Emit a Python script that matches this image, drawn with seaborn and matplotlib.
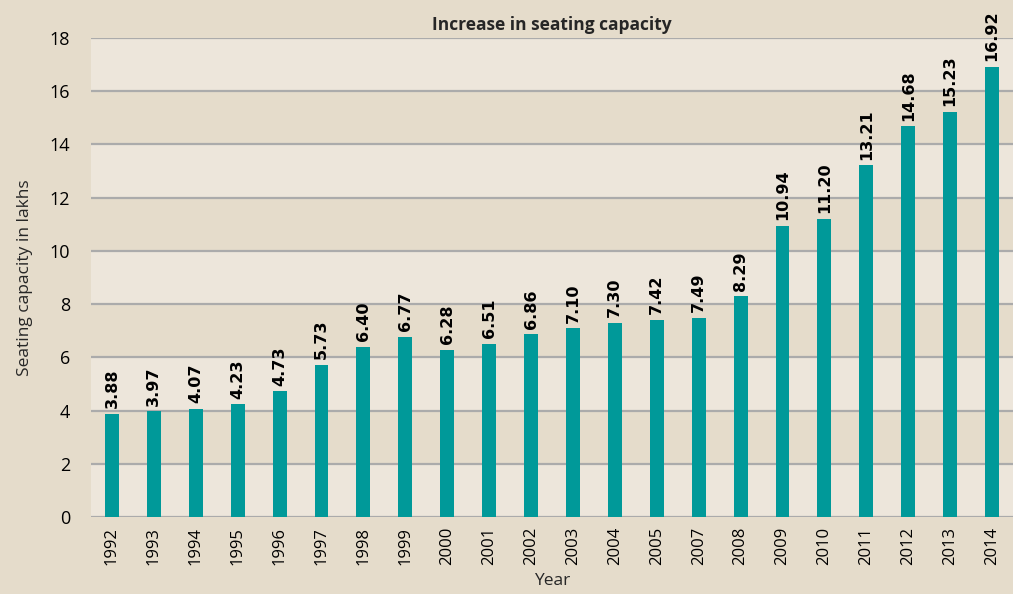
import matplotlib
matplotlib.use("Agg")
import matplotlib.pyplot as plt
import seaborn as sns
import pandas as pd

years = ['1992', '1993', '1994', '1995', '1996', '1997', '1998', '1999', '2000', '2001', '2002',
         '2003', '2004', '2005', '2007', '2008', '2009', '2010', '2011', '2012', '2013', '2014']
capacity = [3.88, 3.97, 4.07, 4.23, 4.73, 5.73, 6.40, 6.77, 6.28, 6.51, 6.86,
            7.10, 7.30, 7.42, 7.49, 8.29, 10.94, 11.20, 13.21, 14.68, 15.23, 16.92]
yticks = [0, 2, 4, 6, 8, 10, 12, 14, 16, 18]

bg = '#E5DCCB'
band = '#EDE6DB'
teal = '#009999'

df = pd.DataFrame({'Year': years, 'Capacity': capacity})

sns.set_style('white')
plt.rcParams['font.family'] = ['Open Sans', 'DejaVu Sans']

fig = plt.figure(figsize=(10.13, 5.94), dpi=100, facecolor=bg)
ax = fig.add_axes([91 / 1013, 77 / 594, 1 - 91 / 1013, (517 - 38) / 594])
ax.set_facecolor(bg)

# alternating light bands
for lo in yticks[:-1:2]:
    ax.axhspan(lo, lo + 2, color=band, zorder=0, lw=0)
for y in yticks:
    ax.axhline(y, color='#ABABAB', lw=1.6, zorder=1)

sns.barplot(data=df, x='Year', y='Capacity', color=teal, width=0.33,
            saturation=1, linewidth=0, ax=ax, zorder=2)

labels = ax.bar_label(ax.containers[0], fmt='%.2f', rotation=90, padding=4,
                      fontsize=11.5, fontweight='bold', color='black')
for t in labels:
    t.set_fontfamily('DejaVu Sans')

ax.set_ylim(0, 18)
ax.set_xlim(-0.5, len(years) - 0.5)
ax.set_yticks(yticks)
ax.tick_params(axis='y', length=0, pad=15, labelsize=13, colors='black')
ax.tick_params(axis='x', length=0, pad=7, labelsize=12, rotation=90, colors='black')
for s in ax.spines.values():
    s.set_visible(False)

ax.set_xlabel('Year', fontsize=12.5, labelpad=6)
ax.set_ylabel('Seating capacity in lakhs', fontsize=12.5, labelpad=12)
ax.set_title('Increase in seating capacity', fontsize=12.5, fontweight='bold', pad=6)

fig.savefig('out.png', dpi=100, facecolor=bg)
